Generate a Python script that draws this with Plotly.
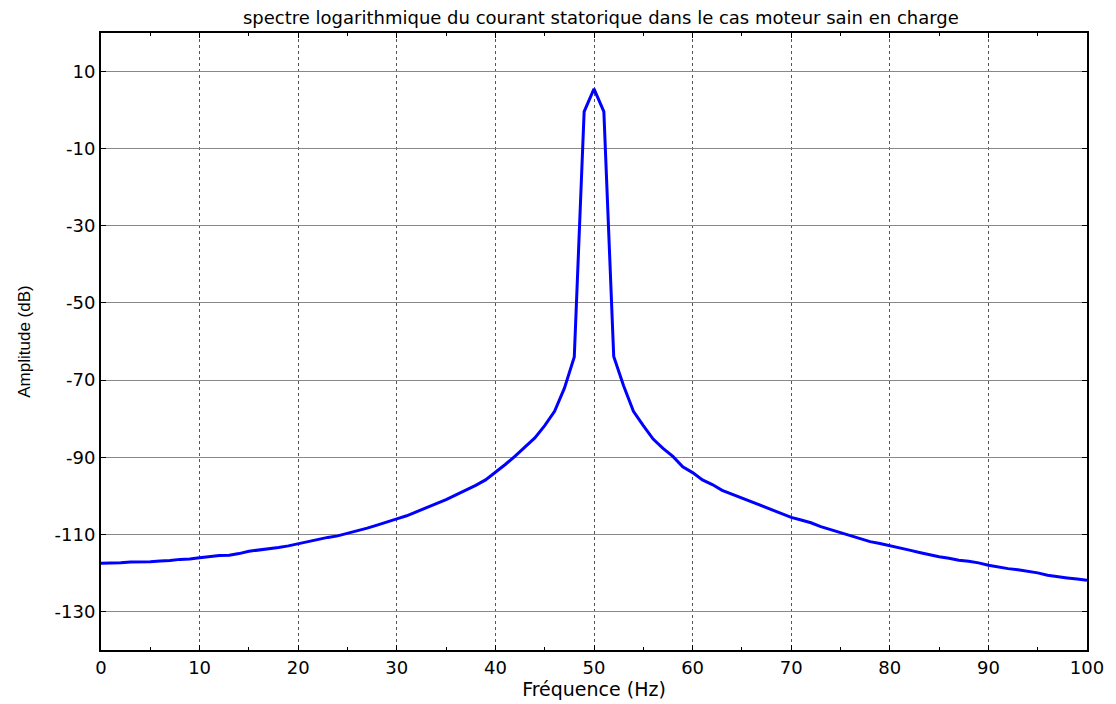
import plotly.graph_objects as go

freq_hz = list(range(0, 101))
amplitude_db = [
    -117.5, -117.5, -117.4, -117.2, -117.2, -117.1, -116.9, -116.8, -116.5, -116.4,
    -116.1, -115.8, -115.5, -115.4, -115.0, -114.4, -114.1, -113.8, -113.4, -113.0,
    -112.4, -111.9, -111.3, -110.8, -110.4, -109.8, -109.1, -108.4, -107.6, -106.7,
    -106.0, -105.2, -104.2, -103.1, -102.1, -101.0, -99.8, -98.6, -97.3, -95.9,
    -94.0, -91.9, -89.7, -87.4, -85.0, -81.8, -78.1, -72.1, -64.0, -0.4,
    5.5, -0.4, -63.9, -71.5, -78.1, -81.8, -85.3, -87.7, -89.8, -92.5,
    -94.0, -95.9, -97.1, -98.6, -99.6, -100.6, -101.6, -102.6, -103.6, -104.5,
    -105.6, -106.3, -107.0, -108.0, -108.8, -109.6, -110.5, -111.2, -111.9, -112.4,
    -112.9, -113.5, -114.1, -114.7, -115.3, -115.8, -116.2, -116.7, -117.0, -117.4,
    -118.0, -118.5, -118.9, -119.2, -119.6, -120.0, -120.6, -121.0, -121.3, -121.6,
    -121.9,
]
x_ticks = [0, 10, 20, 30, 40, 50, 60, 70, 80, 90, 100]
y_ticks = [-130, -110, -90, -70, -50, -30, -10, 10]

title_text = "spectre logarithmique du courant statorique dans le cas moteur sain en charge"
x_title = "Fréquence (Hz)"
y_title = "Amplitude (dB)"

wide_font = "DejaVu Sans, Liberation Sans, Arial, sans-serif"
plain_font = "Liberation Sans, Arial, sans-serif"

fig = go.Figure()
fig.add_trace(go.Scatter(
    x=freq_hz, y=amplitude_db, mode="lines",
    line=dict(color="#0000ff", width=3), showlegend=False,
))

fig.update_layout(
    width=1108, height=696,
    margin=dict(l=93, r=24, t=25, b=49),
    paper_bgcolor="white", plot_bgcolor="white",
    font=dict(family=wide_font, color="black", size=17),
    title=dict(text=title_text, xref="paper", x=0.507, xanchor="center",
               yref="container", y=1, yanchor="top", pad=dict(t=3, b=0),
               font=dict(size=18, family=wide_font)),
)

fig.update_xaxes(
    range=[0, 100], tickvals=x_ticks, ticktext=[str(v) for v in x_ticks],
    showline=True, linecolor="black", linewidth=2, mirror="ticks",
    ticks="inside", ticklen=5, tickcolor="black",
    minor=dict(ticks="inside", ticklen=3, dtick=5, tick0=0, tickcolor="black", showgrid=False),
    showgrid=True, gridcolor="#555555", gridwidth=1, griddash="dot",
    zeroline=False,
    title=dict(text=x_title, font=dict(size=19, family=wide_font), standoff=1),
    tickfont=dict(size=18, family=wide_font),
)
fig.update_yaxes(
    range=[-140, 20], tickvals=y_ticks, ticktext=[str(v) for v in y_ticks],
    showline=True, linecolor="black", linewidth=2, mirror="ticks",
    ticks="inside", ticklen=5, tickcolor="black",
    showgrid=True, gridcolor="#888888", gridwidth=1,
    zeroline=False,
    title=dict(text=y_title, font=dict(size=17, family=plain_font), standoff=20),
    tickfont=dict(size=18, family=wide_font),
)

fig.write_html("out.html")
